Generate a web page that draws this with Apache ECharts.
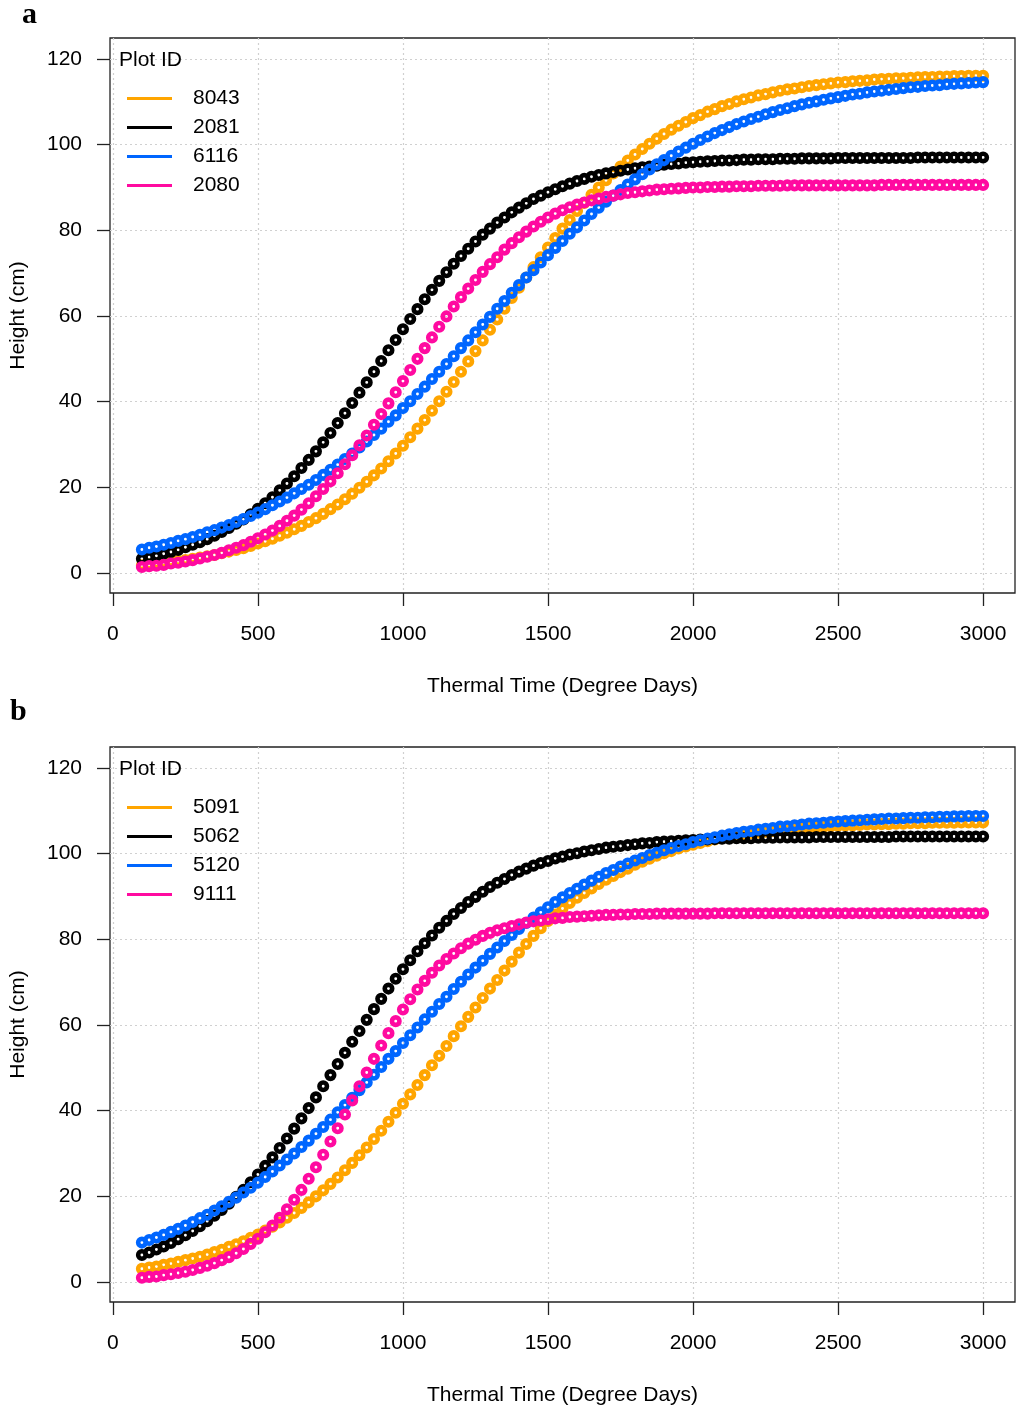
<!DOCTYPE html>
<html>
<head>
<meta charset="utf-8">
<script src="https://cdn.jsdelivr.net/npm/echarts@6/dist/echarts.min.js"></script>
<style>
html,body{margin:0;padding:0;background:#fff;}
#chart{width:1016px;height:1412px;}
</style>
</head>
<body>
<div id="chart"></div>
<script>
// Thermal time (degree days) of each fitted point
const thermalTime = [100,125,150,175,200,225,250,275,300,325,
350,375,400,425,450,475,500,525,550,575,
600,625,650,675,700,725,750,775,800,825,
850,875,900,925,950,975,1000,1025,1050,1075,
1100,1125,1150,1175,1200,1225,1250,1275,1300,1325,
1350,1375,1400,1425,1450,1475,1500,1525,1550,1575,
1600,1625,1650,1675,1700,1725,1750,1775,1800,1825,
1850,1875,1900,1925,1950,1975,2000,2025,2050,2075,
2100,2125,2150,2175,2200,2225,2250,2275,2300,2325,
2350,2375,2400,2425,2450,2475,2500,2525,2550,2575,
2600,2625,2650,2675,2700,2725,2750,2775,2800,2825,
2850,2875,2900,2925,2950,2975,3000];

// Panel a heights (cm)
const h8043 = [1.8,2.0,2.2,2.4,2.6,2.8,3.0,3.3,3.6,3.9,
4.2,4.6,5.0,5.4,5.8,6.3,6.9,7.4,8.0,8.7,
9.4,10.2,11.0,11.9,12.8,13.8,14.9,16.0,17.2,18.5,
19.9,21.3,22.8,24.4,26.1,27.9,29.7,31.7,33.7,35.7,
37.9,40.1,42.3,44.6,47.0,49.4,51.8,54.3,56.8,59.2,
61.7,64.2,66.6,69.0,71.4,73.7,76.0,78.2,80.4,82.4,
84.5,86.4,88.3,90.0,91.7,93.3,94.9,96.3,97.7,99.0,
100.2,101.4,102.5,103.5,104.4,105.3,106.2,106.9,107.7,108.3,
109.0,109.5,110.1,110.6,111.0,111.5,111.8,112.2,112.6,112.9,
113.1,113.4,113.7,113.9,114.1,114.3,114.5,114.6,114.8,114.9,
115.0,115.2,115.3,115.4,115.5,115.5,115.6,115.7,115.8,115.8,
115.9,115.9,116.0,116.0,116.1,116.1,116.1];
const h2081 = [3.3,3.7,4.0,4.5,4.9,5.4,6.0,6.6,7.2,7.9,
8.7,9.6,10.5,11.5,12.5,13.7,15.0,16.3,17.7,19.3,
20.9,22.6,24.5,26.4,28.4,30.5,32.7,35.0,37.3,39.7,
42.1,44.5,47.0,49.5,52.0,54.4,56.9,59.3,61.6,63.9,
66.1,68.2,70.2,72.2,74.0,75.7,77.4,79.0,80.4,81.8,
83.0,84.2,85.3,86.3,87.3,88.1,88.9,89.6,90.3,90.9,
91.5,92.0,92.5,92.9,93.3,93.6,93.9,94.2,94.5,94.7,
94.9,95.1,95.3,95.5,95.6,95.8,95.9,96.0,96.1,96.2,
96.3,96.3,96.4,96.5,96.5,96.6,96.6,96.6,96.7,96.7,
96.7,96.8,96.8,96.8,96.8,96.8,96.9,96.9,96.9,96.9,
96.9,96.9,96.9,96.9,96.9,96.9,96.9,97.0,97.0,97.0,
97.0,97.0,97.0,97.0,97.0,97.0,97.0];
const h6116 = [5.5,5.9,6.2,6.6,7.0,7.5,7.9,8.4,8.9,9.5,
10.0,10.6,11.2,11.9,12.6,13.3,14.1,14.9,15.8,16.7,
17.6,18.6,19.6,20.6,21.7,22.9,24.1,25.3,26.6,27.9,
29.3,30.7,32.2,33.7,35.3,36.8,38.5,40.1,41.8,43.5,
45.3,47.0,48.8,50.6,52.5,54.3,56.2,58.0,59.8,61.7,
63.5,65.4,67.2,69.0,70.7,72.5,74.2,75.9,77.5,79.2,
80.7,82.3,83.8,85.3,86.7,88.1,89.4,90.7,91.9,93.1,
94.2,95.4,96.4,97.4,98.4,99.3,100.2,101.1,101.9,102.7,
103.4,104.1,104.8,105.4,106.0,106.5,107.1,107.6,108.1,108.5,
109.0,109.4,109.8,110.1,110.5,110.8,111.1,111.4,111.7,111.9,
112.2,112.4,112.6,112.8,113.0,113.2,113.4,113.5,113.7,113.8,
113.9,114.1,114.2,114.3,114.4,114.5,114.6];
const h2080 = [1.4,1.6,1.7,1.9,2.2,2.4,2.7,3.0,3.4,3.8,
4.2,4.7,5.3,5.9,6.5,7.3,8.1,9.0,9.9,11.0,
12.2,13.4,14.8,16.3,17.9,19.6,21.4,23.3,25.4,27.5,
29.8,32.1,34.6,37.1,39.6,42.2,44.8,47.4,50.0,52.5,
55.0,57.5,59.9,62.2,64.4,66.4,68.4,70.3,72.1,73.7,
75.5,77.0,78.4,79.7,80.9,82.0,83.0,83.9,84.7,85.4,
86.0,86.5,87.0,87.4,87.8,88.1,88.4,88.7,88.9,89.1,
89.3,89.5,89.6,89.7,89.8,89.9,90.0,90.0,90.1,90.1,
90.2,90.2,90.3,90.3,90.3,90.4,90.4,90.4,90.4,90.5,
90.5,90.5,90.5,90.5,90.5,90.5,90.5,90.5,90.5,90.5,
90.5,90.5,90.6,90.6,90.6,90.6,90.6,90.6,90.6,90.6,
90.6,90.6,90.6,90.6,90.6,90.6,90.6];

// Panel b heights (cm)
const h5091 = [3.1,3.4,3.6,4.0,4.3,4.7,5.1,5.5,5.9,6.4,
7.0,7.5,8.2,8.8,9.5,10.3,11.1,12.0,12.9,13.9,
15.0,16.1,17.3,18.6,20.0,21.4,22.9,24.4,26.1,27.8,
29.6,31.4,33.4,35.3,37.4,39.5,41.6,43.8,46.0,48.3,
50.6,52.8,55.1,57.4,59.7,61.9,64.1,66.3,68.5,70.5,
72.7,74.8,76.9,78.9,80.8,82.6,84.3,85.8,87.2,88.5,
89.7,90.8,91.9,92.9,93.9,94.8,95.7,96.5,97.4,98.1,
98.8,99.5,100.1,100.6,101.2,101.7,102.1,102.5,102.9,103.3,
103.6,103.9,104.2,104.5,104.7,104.9,105.1,105.3,105.5,105.7,
105.8,105.9,106.1,106.2,106.3,106.4,106.5,106.6,106.6,106.7,
106.8,106.8,106.9,106.9,107.0,107.0,107.1,107.1,107.1,107.2,
107.2,107.2,107.2,107.3,107.3,107.3,107.3];
const h5062 = [6.3,6.9,7.6,8.3,9.1,10.0,10.9,11.9,13.0,14.2,
15.5,16.8,18.3,19.9,21.5,23.3,25.1,27.1,29.1,31.3,
33.5,35.8,38.2,40.6,43.1,45.7,48.3,50.9,53.5,56.1,
58.6,61.2,63.7,66.1,68.5,70.8,73.0,75.1,77.2,79.1,
80.9,82.7,84.3,85.9,87.3,88.7,89.9,91.1,92.2,93.2,
94.1,95.0,95.8,96.5,97.2,97.8,98.3,98.9,99.3,99.8,
100.1,100.5,100.8,101.1,101.4,101.6,101.8,102.0,102.2,102.4,
102.5,102.7,102.8,102.9,103.0,103.1,103.2,103.3,103.3,103.4,
103.5,103.5,103.6,103.6,103.6,103.7,103.7,103.7,103.8,103.8,
103.8,103.8,103.8,103.9,103.9,103.9,103.9,103.9,103.9,103.9,
103.9,103.9,103.9,103.9,104.0,104.0,104.0,104.0,104.0,104.0,
104.0,104.0,104.0,104.0,104.0,104.0,104.0];
const h5120 = [9.2,9.8,10.4,11.0,11.7,12.4,13.2,14.0,14.9,15.7,
16.7,17.7,18.7,19.7,20.9,22.0,23.2,24.5,25.8,27.2,
28.6,30.0,31.5,33.0,34.6,36.2,37.9,39.6,41.3,43.0,
44.8,46.6,48.4,50.2,52.1,53.9,55.8,57.6,59.4,61.3,
63.1,64.9,66.6,68.4,70.1,71.8,73.4,75.0,76.6,78.1,
79.6,81.0,82.4,83.8,85.1,86.3,87.5,88.7,89.8,90.8,
91.8,92.8,93.7,94.6,95.5,96.2,97.0,97.7,98.4,99.0,
99.7,100.2,100.8,101.3,101.8,102.2,102.7,103.1,103.5,103.8,
104.2,104.5,104.8,105.1,105.3,105.6,105.8,106.0,106.3,106.4,
106.6,106.8,107.0,107.1,107.2,107.4,107.5,107.6,107.7,107.8,
107.9,108.0,108.1,108.2,108.2,108.3,108.4,108.4,108.5,108.5,
108.6,108.6,108.7,108.7,108.8,108.8,108.8];
const h9111 = [1.0,1.2,1.3,1.6,1.8,2.1,2.4,2.8,3.3,3.8,
4.4,5.1,5.8,6.7,7.7,8.9,10.1,11.6,13.2,15.0,
17.0,19.2,21.5,24.1,26.8,29.7,32.8,35.9,39.1,42.4,
45.7,48.9,52.1,55.2,58.1,60.9,63.6,66.0,68.3,70.3,
72.2,73.9,75.4,76.7,77.9,79.0,79.9,80.8,81.5,82.1,
82.6,83.1,83.5,83.9,84.2,84.4,84.7,84.9,85.0,85.2,
85.3,85.4,85.5,85.6,85.7,85.7,85.8,85.8,85.9,85.9,
85.9,86.0,86.0,86.0,86.0,86.0,86.0,86.0,86.0,86.1,
86.1,86.1,86.1,86.1,86.1,86.1,86.1,86.1,86.1,86.1,
86.1,86.1,86.1,86.1,86.1,86.1,86.1,86.1,86.1,86.1,
86.1,86.1,86.1,86.1,86.1,86.1,86.1,86.1,86.1,86.1,
86.1,86.1,86.1,86.1,86.1,86.1,86.1];

const xTicks = [0,500,1000,1500,2000,2500,3000];
const yTicks = [0,20,40,60,80,100,120];
const plotIdsA = ['8043','2081','6116','2080'];
const plotIdsB = ['5091','5062','5120','9111'];
const seriesA = [h8043,h2081,h6116,h2080];
const seriesB = [h5091,h5062,h5120,h9111];
const colors = ['#FFA500','#000000','#0066FF','#FF0AA0'];

const FONT = 'Liberation Sans, Arial, sans-serif';
const panels = [{top:38, letterTop:0, letterLeft:22, letter:'a', ids:plotIdsA, vals:seriesA},
                {top:747, letterTop:697, letterLeft:10, letter:'b', ids:plotIdsB, vals:seriesB}];

const option = {
  animation:false,
  backgroundColor:'#fff',
  title:[], legend:[], grid:[], xAxis:[], yAxis:[], series:[]
};

panels.forEach((p, gi) => {
  option.grid.push({left:107, top:p.top, width:908, height:555, show:true, borderColor:'#222', borderWidth:1.3, backgroundColor:'transparent'});
  option.xAxis.push({
    gridIndex:gi, type:'value', min:-10, max:3110, splitNumber:6,
    axisLine:{show:false, onZero:false},
    axisTick:{show:true, inside:false, length:13, customValues:xTicks, lineStyle:{color:'#222', width:1.3}},
    axisLabel:{customValues:xTicks, margin:31, fontSize:21, color:'#000', fontFamily:FONT, formatter:(v)=>String(v)},
    splitLine:{show:true, lineStyle:{color:'#d0d0d0', width:1.2, type:[2,3]}},
    name:'Thermal Time (Degree Days)', nameLocation:'middle', nameGap:83,
    nameTextStyle:{fontSize:21, color:'#000', fontFamily:FONT}
  });
  option.yAxis.push({
    gridIndex:gi, type:'value', min:-4.67, max:124.9, splitNumber:6,
    axisLine:{show:false, onZero:false},
    axisTick:{show:true, inside:false, length:13, customValues:yTicks, lineStyle:{color:'#222', width:1.3}},
    axisLabel:{customValues:yTicks, margin:28, fontSize:21, color:'#000', fontFamily:FONT, formatter:(v)=>String(v)},
    splitLine:{show:true, lineStyle:{color:'#d0d0d0', width:1.2, type:[2,3]}},
    name:'Height (cm)', nameLocation:'middle', nameGap:81, nameRotate:90,
    nameTextStyle:{fontSize:21, color:'#000', fontFamily:FONT}
  });
  option.title.push({text:p.letter, left:p.letterLeft, top:p.letterTop, padding:0,
    textStyle:{fontFamily:'Liberation Serif, Times New Roman, serif', fontWeight:'bold', fontSize:30, color:'#000'}});
  option.title.push({text:'Plot ID', left:119, top:p.top+12, padding:0,
    textStyle:{fontFamily:FONT, fontWeight:'normal', fontSize:21, color:'#000'}});
  option.legend.push({
    orient:'vertical', left:127, top:p.top+50, itemWidth:45, itemHeight:3, itemGap:8,
    icon:'rect', selectedMode:false, padding:0,
    textStyle:{fontSize:21, lineHeight:21, color:'#000', fontFamily:FONT, padding:[0,0,0,16]},
    data:p.ids.map((id,i)=>({name:id, itemStyle:{color:colors[i], borderWidth:0, opacity:1}}))
  });
  p.ids.forEach((id, si) => {
    option.series.push({
      name:id, type:'scatter', xAxisIndex:gi, yAxisIndex:gi, silent:true,
      symbol:'circle', symbolSize:7.5,
      itemStyle:{color:'rgba(0,0,0,0)', borderColor:colors[si], borderWidth:4.6, opacity:1},
      data:thermalTime.map((t,i)=>[t, p.vals[si][i]])
    });
  });
});

const chart = echarts.init(document.getElementById('chart'), null, {renderer:'canvas'});
chart.setOption(option);
</script>
</body>
</html>
